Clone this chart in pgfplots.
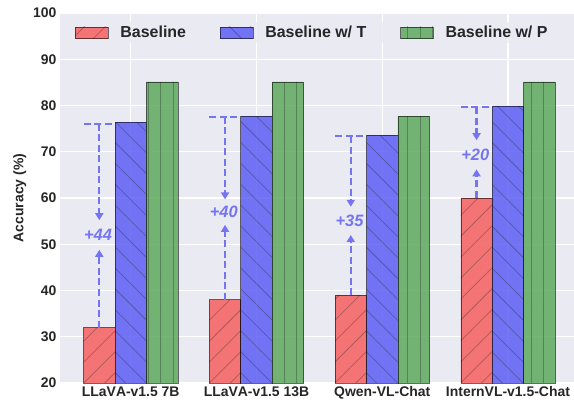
\documentclass[border=0pt]{standalone}
\usepackage{pgfplots}
\pgfplotsset{compat=1.18}
\usepackage{fontspec}
\setmainfont{Liberation Sans}[Kerning=Off]
\usetikzlibrary{patterns.meta,arrows.meta}
\definecolor{bgc}{HTML}{EAEAF2}
\definecolor{redc}{HTML}{F66868}
\definecolor{bluec}{HTML}{6666F5}
\definecolor{greenc}{HTML}{66AE66}
\definecolor{annc}{RGB}{117,117,242}
\definecolor{txtc}{HTML}{262626}
\begin{document}
\begin{tikzpicture}
\begin{axis}[
  width=514bp, height=370bp, scale only axis,
  xmin=-0.5625, xmax=3.525, ymin=20, ymax=100,
  enlargelimits=false,
  ybar, bar width=0.25,
  axis background/.style={fill=bgc},
  axis line style={draw=none},
  major tick length=0pt,
  xmajorgrids, ymajorgrids,
  grid style={white, line width=1.1bp},
  xtick={0,1,2,3},
  xticklabels={LLaVA-v1.5 7B, LLaVA-v1.5 13B, Qwen-VL-Chat, InternVL-v1.5-Chat},
  ytick={20,30,40,50,60,70,80,90,100},
  yticklabels={20,30,40,50,60,70,80,90,100},
  tick label style={font=\bfseries\fontsize{14}{16}\selectfont, text=txtc},
  ylabel={Accuracy (\%)},
  ylabel style={font=\bfseries\fontsize{14}{17}\selectfont, text=txtc, yshift=0bp},
  legend columns=3,
  legend style={draw=none, fill=bgc, fill opacity=0.8, text opacity=1,
    at={(0,1)}, anchor=north west, xshift=12bp, yshift=-9bp,
    font=\bfseries\fontsize{16}{19}\selectfont, text=txtc,
    /tikz/every odd column/.append style={column sep=10bp},
    /tikz/every even column/.append style={column sep=32bp}},
  legend cell align=left,
  mylegend/.style={legend image code/.code={\draw[##1] (0bp,-5.8bp) rectangle (32.7bp,5.8bp);}},
  every axis plot/.append style={draw=black, draw opacity=0.35, line width=0.6bp},
]
\addplot[mylegend, fill=redc, fill opacity=0.9, bar shift=-0.25,
  postaction={pattern={Lines[angle=45,distance=14.8bp,line width=0.75bp]}, pattern color=black!85}]
  coordinates {(0,32) (1,38) (2,39) (3,60)};
\addlegendentry{Baseline}
\addplot[mylegend, fill=bluec, fill opacity=0.9, bar shift=0,
  postaction={pattern={Lines[angle=-45,distance=14.8bp,line width=0.75bp]}, pattern color=black!85}]
  coordinates {(0,76.4) (1,77.7) (2,73.6) (3,79.9)};
\addlegendentry{Baseline w/ T}
\addplot[mylegend, fill=greenc, fill opacity=0.9, bar shift=0.25,
  postaction={pattern={Lines[angle=90,distance=12.35bp,line width=0.75bp]}, pattern color=black!85}]
  coordinates {(0,85.1) (1,85.1) (2,77.7) (3,85.1)};
\addlegendentry{Baseline w/ P}

\tikzset{annot/.style={annc, line width=2.1bp, dash pattern=on 7bp off 3.5bp},
  annarr/.style={annot, -{Triangle[length=7bp,width=8bp]}},
  anntext/.style={text=annc, font=\bfseries\itshape\fontsize{16.5}{19}\selectfont}}
% group 1
\draw[annot] (axis cs:-0.375,76) -- (axis cs:-0.125,76);
\draw[annarr] (axis cs:-0.25,76) -- (axis cs:-0.25,55.2);
\node[anntext] at (axis cs:-0.26,52) {+44};
\draw[annarr] (axis cs:-0.25,32) -- (axis cs:-0.25,48.8);
% group 2
\draw[annot] (axis cs:0.625,77.6) -- (axis cs:0.875,77.6);
\draw[annarr] (axis cs:0.75,77.6) -- (axis cs:0.75,59.7);
\node[anntext] at (axis cs:0.74,56.9) {+40};
\draw[annarr] (axis cs:0.75,38) -- (axis cs:0.75,54.2);
% group 3
\draw[annot] (axis cs:1.625,73.4) -- (axis cs:1.875,73.4);
\draw[annarr] (axis cs:1.75,73.4) -- (axis cs:1.75,58.1);
\node[anntext] at (axis cs:1.74,55) {+35};
\draw[annarr] (axis cs:1.75,39) -- (axis cs:1.75,52);
% group 4
\draw[annot] (axis cs:2.625,79.6) -- (axis cs:2.875,79.6);
\draw[annarr] (axis cs:2.75,79.6) -- (axis cs:2.75,72.5);
\node[anntext] at (axis cs:2.74,69.3) {+20};
\draw[annarr] (axis cs:2.75,60) -- (axis cs:2.75,66.2);
\end{axis}
\pgfresetboundingbox
\path ([shift={(-60bp,-21bp)}]current axis.south west) rectangle ([shift={(0bp,13bp)}]current axis.north east);
\end{tikzpicture}
\end{document}
